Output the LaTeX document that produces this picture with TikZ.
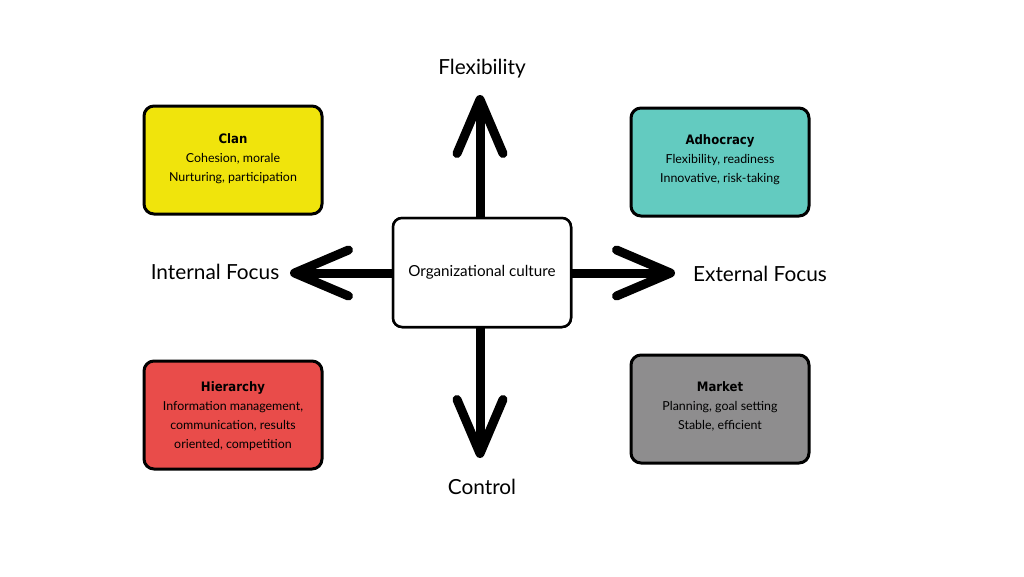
\documentclass[tikz,border=0pt]{standalone}
\usepackage{fontspec}
\setmainfont{Lato}
\newfontfamily\titlefont{DejaVu Sans Condensed}
\usetikzlibrary{arrows.meta}
\definecolor{clanY}{HTML}{F0E40C}
\definecolor{adhoT}{HTML}{63CBC0}
\definecolor{hierR}{HTML}{E94C4A}
\definecolor{markG}{HTML}{8E8D8E}
\tikzset{
  quad/.style={draw=black, line width=3pt, rounded corners=10pt, minimum width=178pt, minimum height=108pt, inner sep=0pt},
  quadtext/.style={align=center, inner sep=0pt, font=\fontsize{12.4}{19}\selectfont},
  centerbox/.style={draw=black, fill=white, line width=2.5pt, rounded corners=9pt, minimum width=178pt, minimum height=109pt, font=\fontsize{15.2}{17}\selectfont},
  axislabel/.style={font=\fontsize{20.8}{24}\selectfont},
  axis/.style={line width=9pt, -{Straight Barb[length=54pt,width=46pt,round]}},
}
\newcommand{\qtitle}[1]{{\titlefont\bfseries\fontsize{13}{19}\selectfont #1}}
\begin{document}
\begin{tikzpicture}[x=1pt,y=-1pt]
\useasboundingbox[fill=white] (0,0) rectangle (1024,576);
\node[centerbox] (org) at (482,272.5) {};
\coordinate (tipN) at (480,95);
\coordinate (tipS) at (480,458);
\coordinate (tipW) at (290,273);
\coordinate (tipE) at (675,273);
\draw[axis] (org.north -| tipN) -- (tipN);
\draw[axis] (org.south -| tipS) -- (tipS);
\draw[axis] (org.west |- tipW) -- (tipW);
\draw[axis] (org.east |- tipE) -- (tipE);
\node[centerbox] at (org) {Organizational culture};
\node[axislabel] (flex) at (482,69) {Flexibility};
\node[axislabel] (ctrl) at (482,487) {Control};
\node[axislabel] (intf) at (215,272) {Internal Focus};
\node[axislabel] (extf) at (760,274) {External Focus};
\node[quad, fill=clanY] (clan) at (233,160) {};
\node[quadtext] (clant) at ([yshift=1pt]clan.center) {\qtitle{Clan}\\Cohesion, morale\\Nurturing, participation};
\node[quad, fill=adhoT] (adho) at (720,162) {};
\node[quadtext] (adhot) at ([yshift=2pt]adho.center) {\qtitle{Adhocracy}\\Flexibility, readiness\\Innovative, risk-taking};
\node[quad, fill=hierR] (hier) at (233,415) {};
\node[quadtext] (hiert) at ([yshift=-1pt]hier.center) {\qtitle{Hierarchy}\\Information management,\\communication, results\\oriented, competition};
\node[quad, fill=markG] (mark) at (720,409) {};
\node[quadtext] (markt) at ([yshift=3pt]mark.center) {\qtitle{Market}\\Planning, goal setting\\Stable, efficient};
\end{tikzpicture}
\end{document}
